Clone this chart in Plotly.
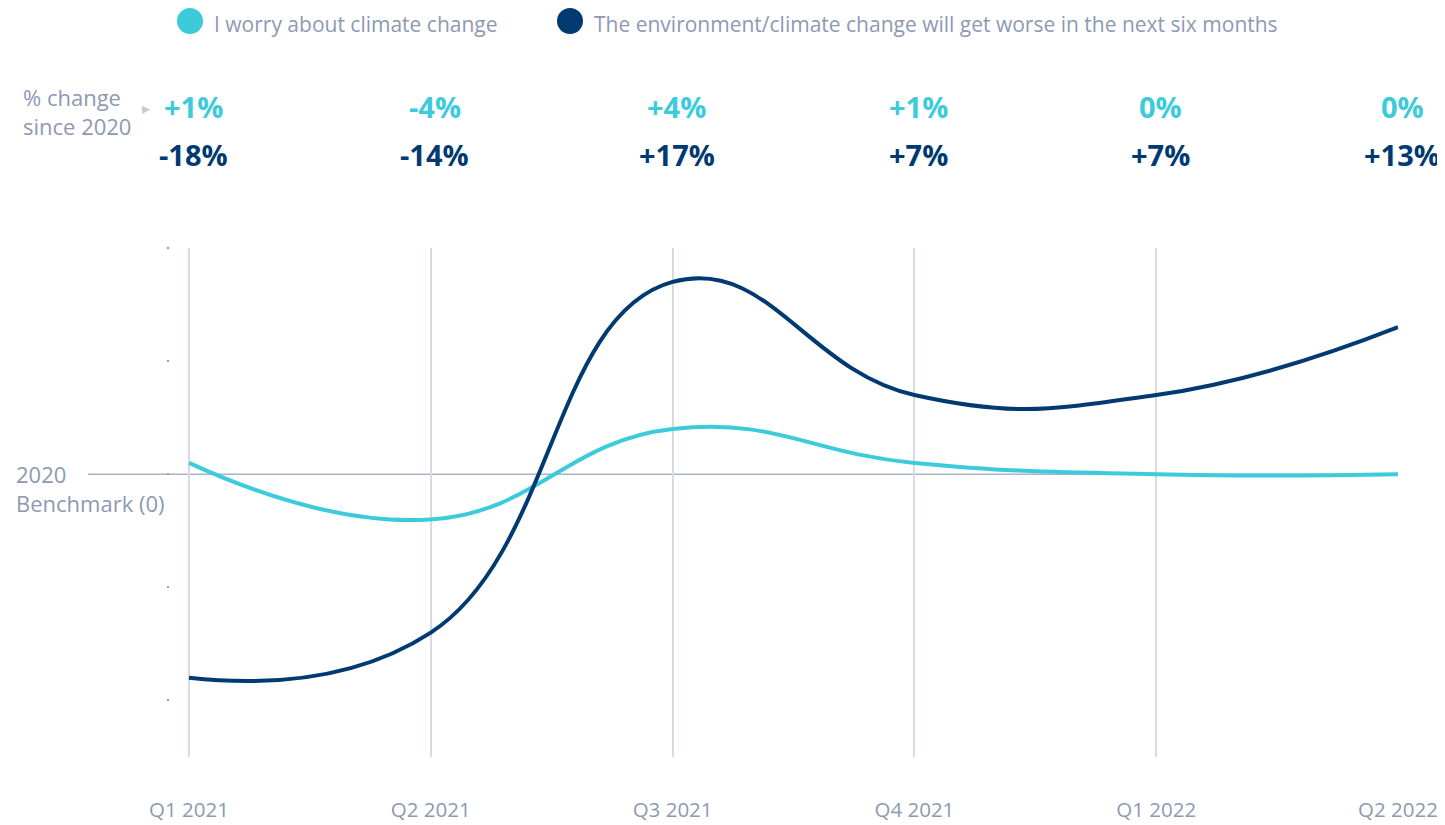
import plotly.graph_objects as go

quarters = ["Q1 2021", "Q2 2021", "Q3 2021", "Q4 2021", "Q1 2022", "Q2 2022"]
worry = [1, -4, 4, 1, 0, 0]
worse = [-18, -14, 17, 7, 7, 13]
worry_labels = ["+1%", "-4%", "+4%", "+1%", "0%", "0%"]
worse_labels = ["-18%", "-14%", "+17%", "+7%", "+7%", "+13%"]
series_names = ["I worry about climate change",
                "The environment/climate change will get worse in the next six months"]

CYAN = '#3ccbdb'
NAVY = '#003a70'
GREY = '#8d99b3'
FONT = 'Open Sans'

# the page has an 8px body margin, so work in page pixels and shift
OFF = 8
L, R, T, B = 170, 1398, 248, 757
W, H = R - L, B - T

def px_x(p):
    return (p - L) / W

def px_y(p):
    return (B - p) / H

fig = go.Figure()
fig.add_trace(go.Scatter(x=quarters, y=worry, mode='lines', name=series_names[0],
                         line=dict(color=CYAN, width=4, shape='spline', smoothing=1.3)))
fig.add_trace(go.Scatter(x=quarters, y=worse, mode='lines', name=series_names[1],
                         line=dict(color=NAVY, width=4, shape='spline', smoothing=1.3)))

# benchmark line
fig.add_shape(type='line', xref='paper', yref='y', x0=px_x(88), x1=px_x(1355), y0=0, y1=0,
              line=dict(color='#a9b3c8', width=1.5), layer='below')

annotations = []
# % change rows
for q, a, b in zip(quarters, worry_labels, worse_labels):
    annotations.append(dict(x=q, y=px_y(106), xref='x', yref='paper', text='<b>%s</b>' % a,
                            xanchor='center', yanchor='middle', showarrow=False,
                            font=dict(size=29, color=CYAN, family=FONT), xshift=4))
    annotations.append(dict(x=q, y=px_y(154), xref='x', yref='paper', text='<b>%s</b>' % b,
                            xanchor='center', yanchor='middle', showarrow=False,
                            font=dict(size=29, color=NAVY, family=FONT), xshift=4))
annotations.append(dict(x=px_x(21), y=px_y(112), xref='paper', yref='paper',
                        xanchor='left', yanchor='middle', align='left',
                        text='% change<br>since 2020', showarrow=False,
                        font=dict(size=22, color=GREY, family=FONT)))
annotations.append(dict(x=px_x(146), y=px_y(108), xref='paper', yref='paper',
                        xanchor='center', yanchor='middle',
                        text='▸', showarrow=False, font=dict(size=16, color='#c5cad6')))
annotations.append(dict(x=px_x(14), y=0, xref='paper', yref='y', xanchor='left',
                        yanchor='top', yshift=17, align='left',
                        text='2020<br>Benchmark (0)', showarrow=False,
                        font=dict(size=22, color=GREY, family=FONT)))

# legend drawn by hand so the dots can be big
for cx, txt, col in [(190, series_names[0], CYAN), (570, series_names[1], NAVY)]:
    fig.add_shape(type='circle', xref='paper', yref='paper',
                  x0=px_x(cx - 13), x1=px_x(cx + 13), y0=px_y(34), y1=px_y(8),
                  fillcolor=col, line=dict(width=0))
    annotations.append(dict(x=px_x(cx + 22), y=px_y(24), xref='paper', yref='paper',
                            xanchor='left', yanchor='middle', text=txt, showarrow=False,
                            font=dict(size=21, color=GREY, family=FONT)))

step = (R - 189) / 5
fig.update_layout(
    width=1445 - OFF, height=825 - OFF,
    margin=dict(l=L - OFF, r=1445 - R, t=T - OFF, b=825 - B, pad=0, autoexpand=False),
    paper_bgcolor='white',
    plot_bgcolor='white',
    showlegend=False,
    font=dict(family=FONT, color=GREY),
    annotations=annotations,
    xaxis=dict(type='category',
               range=[-(189 - L) / step, 5],
               automargin=False,
               showgrid=True, gridcolor='#d6dae4', gridwidth=1.5,
               zeroline=False, showline=False, ticks='',
               tickfont=dict(size=20.5, color=GREY, family=FONT),
               ticklabelstandoff=38),
    yaxis=dict(range=[-25, 20],
               automargin=False,
               tickvals=[-20, -10, 0, 10, 20],
               showticklabels=False,
               ticks='outside', ticklen=2, tickwidth=1.5, tickcolor='#9aa0aa',
               showgrid=False, zeroline=False, showline=False),
)

fig.write_html("out.html")
